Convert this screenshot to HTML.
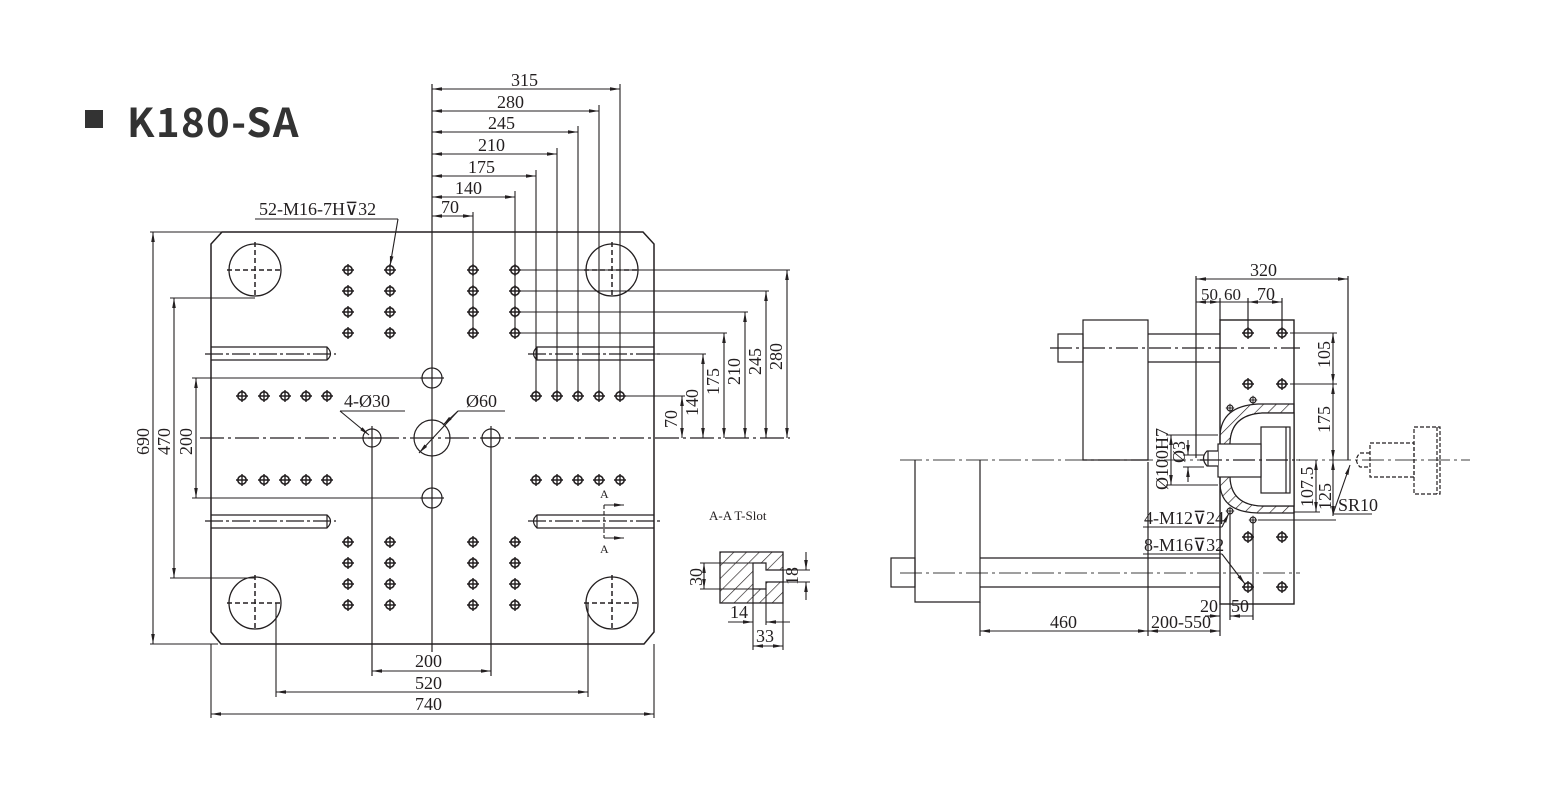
<!DOCTYPE html>
<html><head><meta charset="utf-8"><style>
html,body{margin:0;padding:0;background:#fff;}
svg{display:block;}
text{font-family:"Liberation Serif",serif;fill:#231f20;}
</style></head><body>
<svg width="1560" height="794" viewBox="0 0 1560 794" xmlns="http://www.w3.org/2000/svg">
<defs>
<marker id="a" viewBox="0 0 10 6" refX="10" refY="3" markerWidth="10" markerHeight="6" markerUnits="userSpaceOnUse" orient="auto-start-reverse"><path d="M0,1.2 L10,3 L0,4.8 Z" fill="#231f20"/></marker>
<g id="h"><circle r="4.2" fill="none" stroke="#231f20" stroke-width="1.6"/><path d="M-6,0H6M0,-6V6" stroke="#231f20" stroke-width="1.4"/></g>
<g id="tb"><circle r="26" fill="none" stroke="#231f20" stroke-width="1.3"/><path d="M-28,0H28M0,-28V28" stroke="#231f20" stroke-width="1.5" stroke-dasharray="5,3"/></g>
<pattern id="hatch" width="9" height="9" patternUnits="userSpaceOnUse" patternTransform="rotate(45)"><line x1="0" y1="0" x2="0" y2="9" stroke="#231f20" stroke-width="1.3"/></pattern>
</defs>

<rect x="85" y="110" width="18" height="18" fill="#333"/>
<text x="127" y="137" style="font-family:'Noto Sans CJK SC','Liberation Sans',sans-serif;font-weight:bold;font-size:40px;letter-spacing:1.5px;fill:#333">K180-SA</text>

<g stroke="#231f20" stroke-width="1.2" fill="none">
<path d="M222,232 H643 L654,244 V632 L644,644 H221 L211,632 V244 Z" stroke-width="1.5"/>
<line x1="432" y1="84" x2="432" y2="652"/>
<line x1="200" y1="438" x2="790" y2="438" stroke-dasharray="24,4,3,4"/>
<path d="M211,347 H327 Q334,354 327,360 H211"/>
<line x1="327" y1="347" x2="327" y2="360"/>
<line x1="205" y1="354" x2="336" y2="354" stroke-dasharray="18,3,3,3"/>
<path d="M654,347 H537 Q530,354 537,360 H654"/>
<line x1="537" y1="347" x2="537" y2="360"/>
<line x1="528" y1="354" x2="660" y2="354" stroke-dasharray="18,3,3,3"/>
<path d="M211,515 H327 Q334,521 327,528 H211"/>
<line x1="327" y1="515" x2="327" y2="528"/>
<line x1="205" y1="521" x2="336" y2="521" stroke-dasharray="18,3,3,3"/>
<path d="M654,515 H537 Q530,521 537,528 H654"/>
<line x1="537" y1="515" x2="537" y2="528"/>
<line x1="528" y1="521" x2="660" y2="521" stroke-dasharray="18,3,3,3"/>
<circle cx="432" cy="438" r="18"/>
<circle cx="372" cy="438" r="9"/><path d="M372,426V450M362,438H382"/>
<circle cx="491" cy="438" r="9"/><path d="M491,426V450M481,438H501"/>
<circle cx="432" cy="378" r="10"/><path d="M420,378H444"/>
<circle cx="432" cy="498" r="10"/><path d="M420,498H444"/>
<line x1="372" y1="450" x2="372" y2="676"/>
<line x1="491" y1="450" x2="491" y2="676"/>
</g>
<use href="#tb" x="255" y="270"/><use href="#tb" x="612" y="270"/>
<use href="#tb" x="255" y="603"/><use href="#tb" x="612" y="603"/>

<g>
<use href="#h" x="348" y="270"/><use href="#h" x="390" y="270"/><use href="#h" x="348" y="291"/><use href="#h" x="390" y="291"/>
<use href="#h" x="348" y="312"/><use href="#h" x="390" y="312"/><use href="#h" x="348" y="333"/><use href="#h" x="390" y="333"/>
<use href="#h" x="473" y="270"/><use href="#h" x="515" y="270"/><use href="#h" x="473" y="291"/><use href="#h" x="515" y="291"/>
<use href="#h" x="473" y="312"/><use href="#h" x="515" y="312"/><use href="#h" x="473" y="333"/><use href="#h" x="515" y="333"/>
<use href="#h" x="242" y="396"/><use href="#h" x="264" y="396"/><use href="#h" x="285" y="396"/><use href="#h" x="306" y="396"/><use href="#h" x="327" y="396"/>
<use href="#h" x="242" y="480"/><use href="#h" x="264" y="480"/><use href="#h" x="285" y="480"/><use href="#h" x="306" y="480"/><use href="#h" x="327" y="480"/>
<use href="#h" x="536" y="396"/><use href="#h" x="557" y="396"/><use href="#h" x="578" y="396"/><use href="#h" x="599" y="396"/><use href="#h" x="620" y="396"/>
<use href="#h" x="536" y="480"/><use href="#h" x="557" y="480"/><use href="#h" x="578" y="480"/><use href="#h" x="599" y="480"/><use href="#h" x="620" y="480"/>
<use href="#h" x="348" y="542"/><use href="#h" x="390" y="542"/><use href="#h" x="348" y="563"/><use href="#h" x="390" y="563"/>
<use href="#h" x="348" y="584"/><use href="#h" x="390" y="584"/><use href="#h" x="348" y="605"/><use href="#h" x="390" y="605"/>
<use href="#h" x="473" y="542"/><use href="#h" x="515" y="542"/><use href="#h" x="473" y="563"/><use href="#h" x="515" y="563"/>
<use href="#h" x="473" y="584"/><use href="#h" x="515" y="584"/><use href="#h" x="473" y="605"/><use href="#h" x="515" y="605"/>
</g>

<g stroke="#231f20" stroke-width="1.1" fill="none">
<line x1="620" y1="84" x2="620" y2="396"/><line x1="599" y1="105" x2="599" y2="396"/>
<line x1="578" y1="126" x2="578" y2="396"/><line x1="557" y1="148" x2="557" y2="396"/>
<line x1="536" y1="170" x2="536" y2="396"/><line x1="515" y1="191" x2="515" y2="333"/>
<line x1="473" y1="212" x2="473" y2="333"/>
<line x1="432" y1="89" x2="620" y2="89" marker-start="url(#a)" marker-end="url(#a)"/>
<line x1="432" y1="111" x2="599" y2="111" marker-start="url(#a)" marker-end="url(#a)"/>
<line x1="432" y1="132" x2="578" y2="132" marker-start="url(#a)" marker-end="url(#a)"/>
<line x1="432" y1="154" x2="557" y2="154" marker-start="url(#a)" marker-end="url(#a)"/>
<line x1="432" y1="176" x2="536" y2="176" marker-start="url(#a)" marker-end="url(#a)"/>
<line x1="432" y1="197" x2="515" y2="197" marker-start="url(#a)" marker-end="url(#a)"/>
<line x1="432" y1="216" x2="473" y2="216" marker-start="url(#a)" marker-end="url(#a)"/>
<line x1="515" y1="270" x2="790" y2="270"/><line x1="515" y1="291" x2="769" y2="291"/>
<line x1="515" y1="312" x2="748" y2="312"/><line x1="515" y1="333" x2="727" y2="333"/>
<line x1="654" y1="354" x2="706" y2="354"/><line x1="620" y1="396" x2="685" y2="396"/>
<line x1="682" y1="396" x2="682" y2="438" marker-start="url(#a)" marker-end="url(#a)"/>
<line x1="703" y1="354" x2="703" y2="438" marker-start="url(#a)" marker-end="url(#a)"/>
<line x1="724" y1="333" x2="724" y2="438" marker-start="url(#a)" marker-end="url(#a)"/>
<line x1="745" y1="312" x2="745" y2="438" marker-start="url(#a)" marker-end="url(#a)"/>
<line x1="766" y1="291" x2="766" y2="438" marker-start="url(#a)" marker-end="url(#a)"/>
<line x1="787" y1="270" x2="787" y2="438" marker-start="url(#a)" marker-end="url(#a)"/>
<line x1="150" y1="232" x2="222" y2="232"/><line x1="150" y1="644" x2="218" y2="644"/>
<line x1="153" y1="232" x2="153" y2="644" marker-start="url(#a)" marker-end="url(#a)"/>
<line x1="170" y1="298" x2="255" y2="298"/><line x1="170" y1="578" x2="255" y2="578"/>
<line x1="174" y1="298" x2="174" y2="578" marker-start="url(#a)" marker-end="url(#a)"/>
<line x1="192" y1="378" x2="422" y2="378"/><line x1="192" y1="498" x2="422" y2="498"/>
<line x1="196" y1="378" x2="196" y2="498" marker-start="url(#a)" marker-end="url(#a)"/>
<line x1="276" y1="603" x2="276" y2="697"/><line x1="588" y1="603" x2="588" y2="697"/>
<line x1="211" y1="644" x2="211" y2="718"/><line x1="654" y1="644" x2="654" y2="718"/>
<line x1="372" y1="671" x2="491" y2="671" marker-start="url(#a)" marker-end="url(#a)"/>
<line x1="276" y1="692" x2="588" y2="692" marker-start="url(#a)" marker-end="url(#a)"/>
<line x1="211" y1="714" x2="654" y2="714" marker-start="url(#a)" marker-end="url(#a)"/>
<line x1="255" y1="219" x2="398" y2="219"/>
<line x1="398" y1="219" x2="390" y2="266" marker-end="url(#a)"/>
<line x1="340" y1="411" x2="405" y2="411"/>
<line x1="340" y1="411" x2="369" y2="435" marker-end="url(#a)"/>
<line x1="458" y1="411" x2="505" y2="411"/>
<line x1="458" y1="411" x2="419" y2="453" marker-end="url(#a)"/>
<line x1="443" y1="425" x2="458" y2="411" marker-start="url(#a)"/>
<path d="M604,505 V538" stroke-dasharray="4,2"/>
<line x1="604" y1="505" x2="624" y2="505" marker-end="url(#a)"/>
<line x1="604" y1="538" x2="624" y2="538" marker-end="url(#a)"/>
</g>

<g font-size="18">
<text x="511" y="86">315</text><text x="497" y="108">280</text><text x="488" y="129">245</text>
<text x="478" y="151">210</text><text x="468" y="173">175</text><text x="455" y="194">140</text>
<text x="441" y="213">70</text>
<text x="259" y="215">52-M16-7H⊽32</text>
<text x="344" y="407">4-Ø30</text>
<text x="466" y="407">Ø60</text>
<text x="415" y="667">200</text><text x="415" y="689">520</text><text x="415" y="710">740</text>
<text transform="translate(149,455) rotate(-90)">690</text>
<text transform="translate(170,455) rotate(-90)">470</text>
<text transform="translate(192,455) rotate(-90)">200</text>
<text transform="translate(677,428) rotate(-90)">70</text>
<text transform="translate(698,416) rotate(-90)">140</text>
<text transform="translate(719,395) rotate(-90)">175</text>
<text transform="translate(740,385) rotate(-90)">210</text>
<text transform="translate(761,375) rotate(-90)">245</text>
<text transform="translate(782,370) rotate(-90)">280</text>
</g>
<text x="600" y="498" font-size="12">A</text>
<text x="600" y="553" font-size="12">A</text>
<text x="709" y="520" font-size="13">A-A T-Slot</text>

<path fill="url(#hatch)" stroke="#231f20" stroke-width="1.3" d="M720,552 H783 V603 H720 Z"/>
<path fill="#fff" stroke="#231f20" stroke-width="1.2" d="M753,563 H766 V570 H783 V582 H766 V589 H753 Z"/>
<g stroke="#231f20" stroke-width="1.1" fill="none">
<line x1="700" y1="563" x2="753" y2="563"/><line x1="700" y1="589" x2="753" y2="589"/>
<line x1="704" y1="563" x2="704" y2="589" marker-start="url(#a)" marker-end="url(#a)"/>
<line x1="783" y1="570" x2="810" y2="570"/><line x1="783" y1="582" x2="810" y2="582"/>
<line x1="806" y1="552" x2="806" y2="570" marker-end="url(#a)"/>
<line x1="806" y1="600" x2="806" y2="582" marker-end="url(#a)"/>
<line x1="753" y1="589" x2="753" y2="650"/><line x1="766" y1="589" x2="766" y2="625"/><line x1="783" y1="603" x2="783" y2="650"/>
<line x1="728" y1="622" x2="753" y2="622" marker-end="url(#a)"/>
<line x1="790" y1="622" x2="766" y2="622" marker-end="url(#a)"/>
<line x1="753" y1="646" x2="783" y2="646" marker-start="url(#a)" marker-end="url(#a)"/>
</g>
<g font-size="18">
<text transform="translate(702,586) rotate(-90)">30</text>
<text transform="translate(798,585) rotate(-90)">18</text>
<text x="730" y="618">14</text>
<text x="756" y="642">33</text>
</g>

<g stroke="#231f20" stroke-width="1.2" fill="none">
<line x1="900" y1="460" x2="1470" y2="460" stroke="#666" stroke-dasharray="22,4,3,4"/>
<line x1="1050" y1="348" x2="1300" y2="348" stroke-dasharray="22,4,3,4"/>
<line x1="900" y1="573" x2="1300" y2="573" stroke="#666" stroke-dasharray="22,4,3,4"/>
<rect x="1083" y="320" width="65" height="140"/>
<rect x="1058" y="334" width="25" height="28"/>
<line x1="1148" y1="334" x2="1220" y2="334"/><line x1="1148" y1="362" x2="1220" y2="362"/>
<path d="M915,460 V602 H980 V460"/>
<rect x="891" y="558" width="24" height="29"/>
<line x1="980" y1="558" x2="1220" y2="558"/><line x1="980" y1="587" x2="1220" y2="587"/>
<rect x="1220" y="320" width="74" height="284" stroke-width="1.4"/>
<line x1="1148" y1="462" x2="1148" y2="636"/>
<line x1="980" y1="602" x2="980" y2="636"/>
<line x1="1220" y1="604" x2="1220" y2="636"/>
<line x1="1196" y1="276" x2="1196" y2="458"/>
<line x1="1348" y1="276" x2="1348" y2="460"/>
<line x1="1220" y1="298" x2="1220" y2="320"/>
<line x1="1248" y1="298" x2="1248" y2="333"/>
<line x1="1282" y1="298" x2="1282" y2="333"/>
<line x1="1230" y1="511" x2="1230" y2="620"/>
<line x1="1253" y1="520" x2="1253" y2="620"/>
</g>
<path fill="url(#hatch)" fill-rule="evenodd" stroke="#231f20" stroke-width="1.2" d="M1294,404 L1258,404 Q1221,406 1220,436 L1220,484 Q1221,512 1258,513 L1294,513 Z M1294,413 L1262,413 Q1231,415 1230,443 L1230,477 Q1231,505 1262,506 L1294,506 Z"/>
<path fill="#fff" stroke="#231f20" stroke-width="1.2" d="M1294,413 L1262,413 Q1231,415 1230,443 L1230,477 Q1231,505 1262,506 L1294,506 Z"/>
<g stroke="#231f20" stroke-width="1.2" fill="#fff">
<rect x="1261" y="427" width="29" height="66"/>
<line x1="1286" y1="427" x2="1286" y2="493"/>
<rect x="1218" y="444" width="43" height="33"/>
<path d="M1218,451 H1207 Q1200,458 1207,466 H1218"/>
<line x1="1208" y1="451" x2="1208" y2="466"/>
<line x1="1200" y1="460" x2="1300" y2="460" stroke-dasharray="22,4,3,4" fill="none"/>
</g>
<g>
<use href="#h" x="1248" y="333"/><use href="#h" x="1282" y="333"/>
<use href="#h" x="1248" y="384"/><use href="#h" x="1282" y="384"/>
<use href="#h" x="1248" y="537"/><use href="#h" x="1282" y="537"/>
<use href="#h" x="1248" y="587"/><use href="#h" x="1282" y="587"/>
<g transform="translate(1230,408) scale(0.7)"><use href="#h"/></g>
<g transform="translate(1253,400) scale(0.7)"><use href="#h"/></g>
<g transform="translate(1230,511) scale(0.7)"><use href="#h"/></g>
<g transform="translate(1253,520) scale(0.7)"><use href="#h"/></g>
</g>
<g stroke="#231f20" stroke-width="1.2" fill="none" stroke-dasharray="4,2">
<path d="M1370,453 H1360 Q1353,460 1360,467 H1370"/>
<rect x="1370" y="443" width="44" height="34"/>
<rect x="1414" y="427" width="26" height="67"/>
<line x1="1437" y1="427" x2="1437" y2="494"/>
</g>
<g stroke="#231f20" stroke-width="1.1" fill="none">
<line x1="1196" y1="279" x2="1348" y2="279" marker-start="url(#a)" marker-end="url(#a)"/>
<line x1="1196" y1="302" x2="1220" y2="302" marker-start="url(#a)" marker-end="url(#a)"/>
<line x1="1220" y1="302" x2="1248" y2="302"/>
<line x1="1248" y1="302" x2="1282" y2="302" marker-start="url(#a)" marker-end="url(#a)"/>
<line x1="1290" y1="333" x2="1337" y2="333"/><line x1="1290" y1="384" x2="1337" y2="384"/>
<line x1="1333" y1="333" x2="1333" y2="384" marker-start="url(#a)" marker-end="url(#a)"/>
<line x1="1333" y1="384" x2="1333" y2="460" marker-start="url(#a)" marker-end="url(#a)"/>
<line x1="1333" y1="460" x2="1333" y2="516" marker-start="url(#a)" marker-end="url(#a)"/>
<line x1="1258" y1="520" x2="1336" y2="520"/>
<line x1="1294" y1="512" x2="1320" y2="512"/>
<line x1="1316" y1="460" x2="1316" y2="512" marker-start="url(#a)" marker-end="url(#a)"/>
<line x1="1333" y1="514" x2="1372" y2="514"/>
<line x1="1333" y1="514" x2="1350" y2="465" marker-end="url(#a)"/>
<line x1="1166" y1="435" x2="1218" y2="435"/><line x1="1166" y1="485" x2="1218" y2="485"/>
<line x1="1171" y1="435" x2="1171" y2="485" marker-start="url(#a)" marker-end="url(#a)"/>
<line x1="1183" y1="455" x2="1204" y2="455"/><line x1="1183" y1="467" x2="1204" y2="467"/>
<line x1="1188" y1="440" x2="1188" y2="455" marker-end="url(#a)"/>
<line x1="1188" y1="482" x2="1188" y2="467" marker-end="url(#a)"/>
<line x1="1143" y1="527" x2="1222" y2="527"/>
<line x1="1222" y1="527" x2="1229" y2="513" marker-end="url(#a)"/>
<line x1="1143" y1="554" x2="1222" y2="554"/>
<line x1="1222" y1="554" x2="1245" y2="584" marker-end="url(#a)"/>
<line x1="1205" y1="616" x2="1220" y2="616" marker-end="url(#a)"/>
<line x1="1253" y1="616" x2="1230" y2="616" marker-end="url(#a)"/>
<line x1="980" y1="631" x2="1148" y2="631" marker-start="url(#a)" marker-end="url(#a)"/>
<line x1="1148" y1="631" x2="1220" y2="631" marker-start="url(#a)" marker-end="url(#a)"/>
</g>
<g font-size="18">
<text x="1250" y="276">320</text>
<text x="1201" y="300" font-size="17">50</text><text x="1224" y="300" font-size="17">60</text><text x="1257" y="300">70</text>
<text transform="translate(1330,368) rotate(-90)">105</text>
<text transform="translate(1330,433) rotate(-90)">175</text>
<text transform="translate(1331,510) rotate(-90)">125</text>
<text transform="translate(1313,507) rotate(-90)">107.5</text>
<text x="1338" y="511">SR10</text>
<text transform="translate(1168,490) rotate(-90)">Ø100H7</text>
<text transform="translate(1185,463) rotate(-90)">Ø3</text>
<text x="1144" y="524">4-M12⊽24</text>
<text x="1144" y="551">8-M16⊽32</text>
<text x="1200" y="612">20</text><text x="1231" y="612">50</text>
<text x="1050" y="628">460</text>
<text x="1151" y="628">200-550</text>
</g>
</svg>
</body></html>
